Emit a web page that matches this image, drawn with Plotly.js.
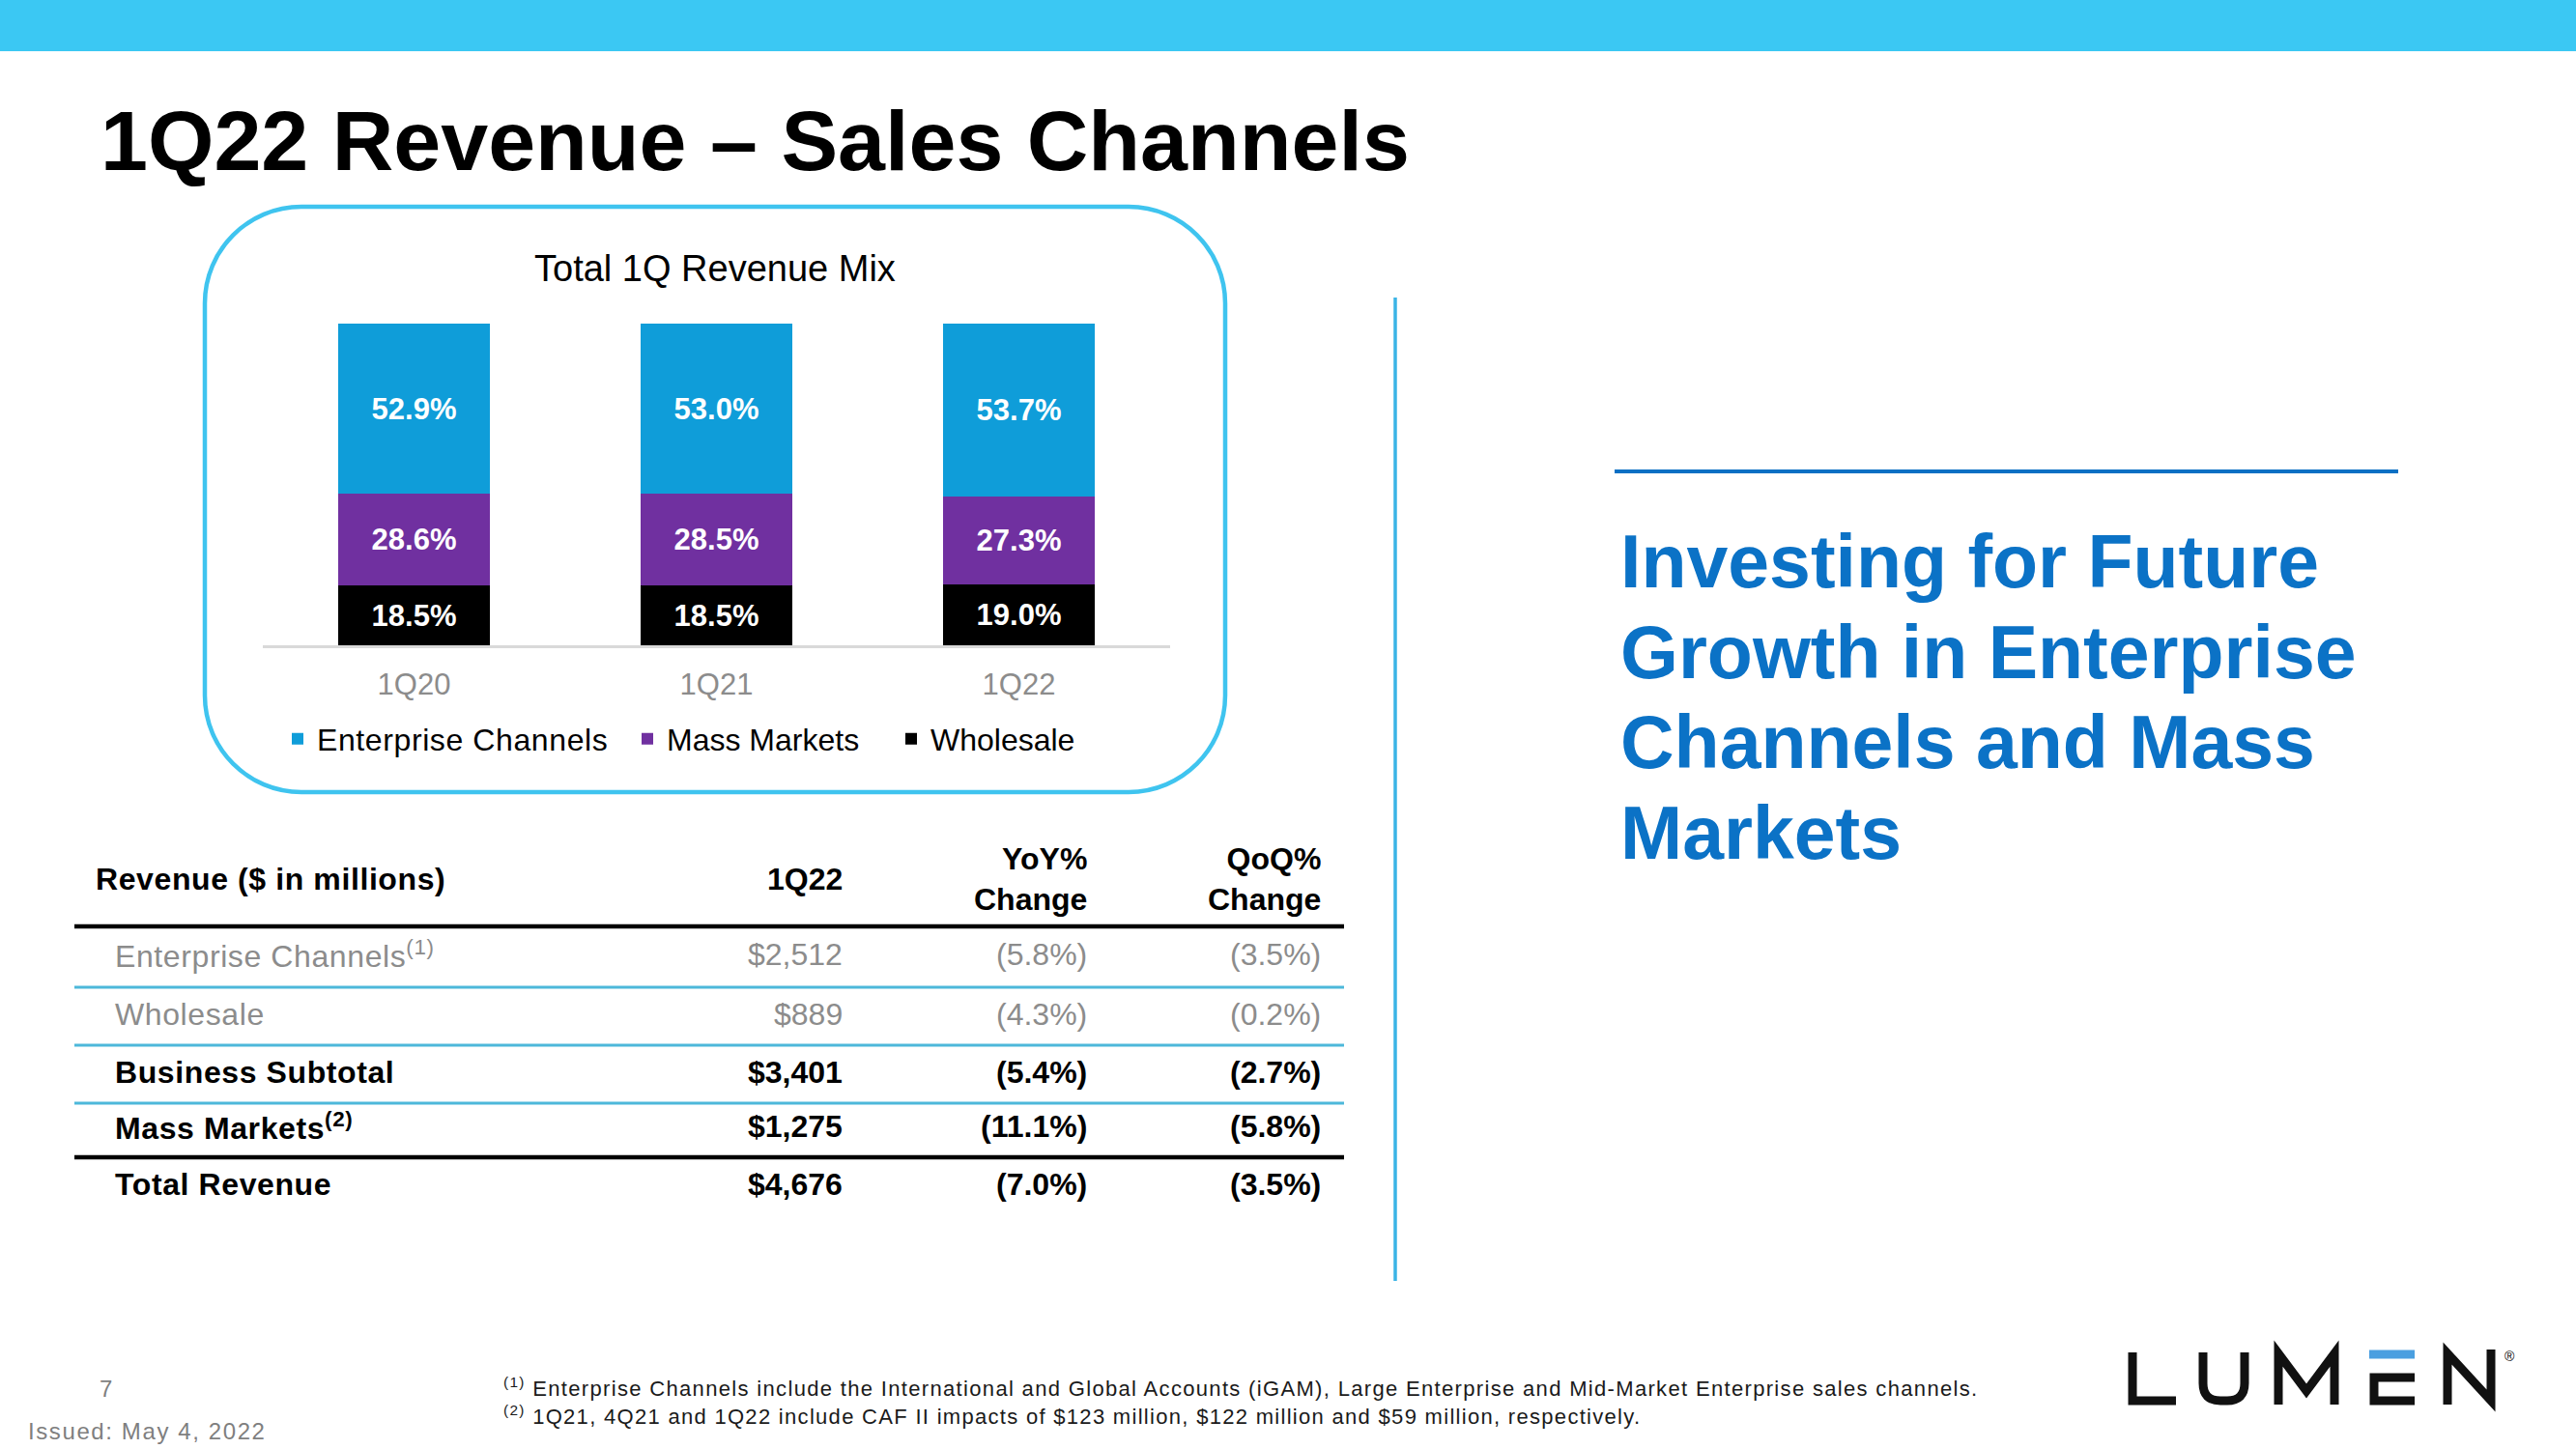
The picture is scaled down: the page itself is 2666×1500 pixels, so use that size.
<!DOCTYPE html>
<html><head><meta charset="utf-8">
<script src="https://cdn.plot.ly/plotly-3.0.1.min.js"></script>
<style>html,body{margin:0;padding:0;background:#fff;} #chart{width:2666px;height:1500px;}</style>
</head><body><div id="chart"></div>
<script>
// ---------------- data ----------------
const categories = ['1Q20', '1Q21', '1Q22'];
const enterpriseShare = [52.9, 53.0, 53.7];
const massMarketsShare = [28.6, 28.5, 27.3];
const wholesaleShare = [18.5, 18.5, 19.0];
const seriesNames = ['Enterprise Channels', 'Mass Markets', 'Wholesale'];

const tableHeaders = ['Revenue ($ in millions)', '1Q22', 'YoY%<br>Change', 'QoQ%<br>Change'];
const rowLabels = ['Enterprise Channels<sup>(1)</sup>', 'Wholesale', 'Business Subtotal', 'Mass Markets<sup>(2)</sup>', 'Total Revenue'];
const revenue1Q22 = ['$2,512', '$889', '$3,401', '$1,275', '$4,676'];
const yoyChange = ['(5.8%)', '(4.3%)', '(5.4%)', '(11.1%)', '(7.0%)'];
const qoqChange = ['(3.5%)', '(0.2%)', '(2.7%)', '(5.8%)', '(3.5%)'];
const boldRows = [false, false, true, true, true];

const slideTitle = '1Q22 Revenue – Sales Channels';
const chartTitle = 'Total 1Q Revenue Mix';
const calloutLines = ['Investing for Future', 'Growth in Enterprise', 'Channels and Mass', 'Markets'];
const footnotes = [
  '<sup>(1)</sup> Enterprise Channels include the International and Global Accounts (iGAM), Large Enterprise and Mid-Market Enterprise sales channels.',
  '<sup>(2)</sup> 1Q21, 4Q21 and 1Q22 include CAF II impacts of $123 million, $122 million and $59 million, respectively.'
];
const pageNumber = '7';
const issuedText = 'Issued: May 4, 2022';

// ---------------- fonts ----------------
const FONT = '"Liberation Sans", Arial, sans-serif';

// ---------------- helpers ----------------
const W = 2666, H = 1500;
const px = x => x / W, py = y => 1 - y / H;
const tracking = [];   // [annotation index, letter-spacing px]
function ann(text, x, y, o) {
  o = o || {};
  return {
    text: text, x: px(x), y: py(y), xref: 'paper', yref: 'paper', showarrow: false,
    xanchor: o.xanchor || 'left', yanchor: o.yanchor || 'middle', align: o.align || 'left',
    font: { family: FONT, size: o.size || 32, color: o.color || '#000', weight: o.weight || 'normal' }
  };
}
function hline(x0, x1, y, color, width, layer) {
  return { type: 'line', xref: 'paper', yref: 'paper', x0: px(x0), x1: px(x1), y0: py(y), y1: py(y),
           line: { color: color, width: width }, layer: layer || 'above' };
}
function pathShape(segs, color, width, fill, layer) {
  const d = segs.map(s => {
    const c = s[0]; const nums = [];
    for (let i = 1; i < s.length; i += 2) nums.push(px(s[i]).toFixed(6) + ',' + py(s[i + 1]).toFixed(6));
    return c + nums.join(' ');
  }).join(' ');
  return { type: 'path', xref: 'paper', yref: 'paper', path: d,
           line: { color: color, width: width }, fillcolor: fill || 'rgba(0,0,0,0)', layer: layer || 'above' };
}
function roundRect(L, T, R, B, r) {
  const k = 0.5523 * r;
  return [
    ['M', L + r, T], ['L', R - r, T], ['C', R - r + k, T, R, T + r - k, R, T + r],
    ['L', R, B - r], ['C', R, B - r + k, R - r + k, B, R - r, B],
    ['L', L + r, B], ['C', L + r - k, B, L, B - r + k, L, B - r],
    ['L', L, T + r], ['C', L, T + r - k, L + r - k, T, L + r, T], ['Z']
  ];
}

// ---------------- traces ----------------
const colors = { ent: '#0F9DD9', mass: '#7030A0', whole: '#000000' };
function barTrace(name, y, color, legendId) {
  return {
    type: 'bar', name: name, x: categories, y: y, legend: legendId,
    marker: { color: color, line: { width: 0 } },
    texttemplate: '%{y:.1f}%', textposition: 'inside', insidetextanchor: 'middle',
    textangle: 0, constraintext: 'none',
    textfont: { family: FONT, size: 31, color: '#FFFFFF', weight: 'bold' },
    hoverinfo: 'skip'
  };
}
const traces = [
  barTrace(seriesNames[2], wholesaleShare, colors.whole, 'legend3'),
  barTrace(seriesNames[1], massMarketsShare, colors.mass, 'legend2'),
  barTrace(seriesNames[0], enterpriseShare, colors.ent, 'legend')
];

// ---------------- annotations ----------------
const annotations = [];
function addAnn(a, spacing) { annotations.push(a); if (spacing) tracking.push([annotations.length - 1, spacing]); }
addAnn(ann(slideTitle, 102, 145, { size: 88, weight: 'bold' }));
addAnn(ann(chartTitle, 740, 278, { size: 38, xanchor: 'center', align: 'center' }));

// table header
addAnn(ann(tableHeaders[0], 97, 910, { size: 32, weight: 'bold' }), 0.6);
const colRight = [874, 1127, 1369];
for (let c = 1; c < 4; c++) {
  addAnn(ann(tableHeaders[c], colRight[c - 1], 910, { size: 32, weight: 'bold', xanchor: 'right', align: 'right' }));
}
const rowY = [988, 1050, 1110, 1166, 1226];
rowLabels.forEach((lab, i) => {
  const st = boldRows[i] ? { weight: 'bold', color: '#000' } : { weight: 'normal', color: '#8C8C8C' };
  addAnn(ann(lab, 117, rowY[i], Object.assign({ size: 32 }, st)), 0.6);
  [revenue1Q22[i], yoyChange[i], qoqChange[i]].forEach((v, c) => {
    addAnn(ann(v, colRight[c], rowY[i], Object.assign({ size: 32, xanchor: 'right', align: 'right' }, st)));
  });
});

// callout
const calloutY = [581, 675, 768, 862];
calloutLines.forEach((t, i) => addAnn(ann(t, 1675, calloutY[i], { size: 77, weight: 'bold', color: '#0B72C6' })));

// footer
addAnn(ann(footnotes[0], 519, 1436, { size: 22, color: '#1A1A1A' }), 1.33);
addAnn(ann(footnotes[1], 519, 1465, { size: 22, color: '#1A1A1A' }), 1.3);
addAnn(ann(pageNumber, 109, 1437, { size: 24, color: '#7F7F7F', xanchor: 'center', align: 'center' }));
addAnn(ann(issuedText, 27, 1481, { size: 24, color: '#7F7F7F' }), 1.6);
addAnn(ann('®', 2597, 1404, { size: 14, color: '#000', xanchor: 'center', align: 'center' }));

// per-annotation letter spacing (left-anchored texts only)
(function () {
  const st = document.createElement('style');
  st.textContent = tracking.map(t => '.annotation[data-index="' + t[0] + '"] text{letter-spacing:' + t[1] + 'px;}').join('\n') +
                   '\n.legendtext{letter-spacing:0.6px;}';
  document.head.appendChild(st);
})();

// ---------------- shapes ----------------
const shapes = [];
shapes.push({ type: 'rect', xref: 'paper', yref: 'paper', x0: 0, x1: 1, y0: py(53), y1: 1,
              fillcolor: '#3BC8F3', line: { width: 0 }, layer: 'below' });
shapes.push(pathShape(roundRect(212, 214, 1268, 820, 100), '#3FC4EF', 4.5, null, 'below'));
shapes.push({ type: 'line', xref: 'paper', yref: 'paper', x0: px(1444), x1: px(1444), y0: py(308), y1: py(1326),
              line: { color: '#3BB4E6', width: 3.5 } });
shapes.push(hline(1671, 2482, 488, '#0A70C4', 4));
// table rules
shapes.push(hline(77, 1391, 959, '#000000', 4.5));
shapes.push(hline(77, 1391, 1022, '#4DB8DA', 3));
shapes.push(hline(77, 1391, 1082, '#4DB8DA', 3));
shapes.push(hline(77, 1391, 1142, '#4DB8DA', 3));
shapes.push(hline(77, 1391, 1198, '#000000', 4.5));
// logo
const logoInk = '#111111';
shapes.push(pathShape([['M', 2207, 1400], ['L', 2207, 1450], ['L', 2252, 1450]], logoInk, 9));
shapes.push(pathShape([['M', 2280, 1400], ['L', 2280, 1432], ['Q', 2280, 1450, 2298, 1450], ['L', 2305, 1450],
                       ['Q', 2323, 1450, 2323, 1432], ['L', 2323, 1400]], logoInk, 9));
shapes.push(pathShape([['M', 2358, 1454], ['L', 2358, 1401], ['L', 2387, 1440], ['L', 2416, 1401], ['L', 2416, 1454]], logoInk, 9));
shapes.push(pathShape([['M', 2452, 1402], ['L', 2499, 1402]], '#4A9FE0', 9));
shapes.push(pathShape([['M', 2499, 1426], ['L', 2457, 1426], ['L', 2457, 1450], ['L', 2499, 1450]], logoInk, 9));
shapes.push(pathShape([['M', 2533, 1454], ['L', 2533, 1401], ['L', 2578, 1450], ['L', 2578, 1397]], logoInk, 9));

// ---------------- layout ----------------
function legendAt(x) {
  return {
    orientation: 'h', x: px(x), y: py(765), xanchor: 'left', yanchor: 'middle',
    font: { family: FONT, size: 32, color: '#000' },
    bgcolor: 'rgba(0,0,0,0)', itemclick: false, itemdoubleclick: false
  };
}
const layout = {
  width: W, height: H, margin: { l: 0, r: 0, t: 0, b: 0 },
  paper_bgcolor: '#FFFFFF', plot_bgcolor: 'rgba(0,0,0,0)',
  font: { family: FONT, color: '#000' },
  barmode: 'stack', bargap: 0.5,
  hovermode: false,
  xaxis: {
    domain: [px(272), px(1211)], type: 'category', range: [-0.5, 2.5],
    showline: true, linecolor: '#D9D9D9', linewidth: 2.5, ticks: '', showgrid: false, zeroline: false,
    tickfont: { family: FONT, size: 31, color: '#8C8C8C' }, ticklabelstandoff: 11, fixedrange: true
  },
  yaxis: {
    domain: [py(668), py(335)], range: [0, 100], visible: false, showgrid: false, zeroline: false, fixedrange: true
  },
  showlegend: true,
  legend: legendAt(288),
  legend2: legendAt(650),
  legend3: legendAt(923),
  annotations: annotations,
  shapes: shapes
};

Plotly.newPlot('chart', traces, layout, { staticPlot: true, displayModeBar: false });
</script>
</body></html>
